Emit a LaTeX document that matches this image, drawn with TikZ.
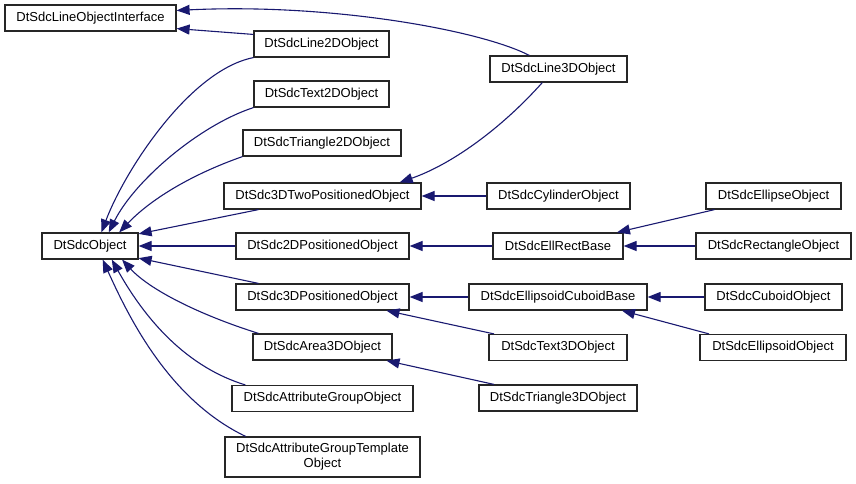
\documentclass[tikz,border=0pt]{standalone}
\usepackage{fontspec}
\setmainfont{Liberation Sans}
\usepackage{tikz}
\usetikzlibrary{arrows.meta}

\definecolor{edgeblue}{HTML}{191970}

\begin{document}
\begin{tikzpicture}[x=1pt, y=-1pt,
		cls/.style={draw=black!85, line width=1.2pt, fill=white, rectangle, minimum height=26, inner sep=0pt,
			font=\fontsize{13}{15}\selectfont},
		inh/.style={draw=edgeblue, line width=1.1pt, -{Triangle[length=13pt,width=10pt]}}]
			\useasboundingbox (0,0) rectangle (856,483);

			% first column
			\node[cls, minimum width=171] (lineif) at (90.5,18) {DtSdcLineObjectInterface};
			\node[cls, minimum width=96] (obj) at (90,246) {DtSdcObject};

			% second column
			\node[cls, minimum width=135] (line2d) at (321.5,44) {DtSdcLine2DObject};
			\node[cls, minimum width=135] (text2d) at (321.5,94) {DtSdcText2DObject};
			\node[cls, minimum width=158] (tri2d) at (322,143) {DtSdcTriangle2DObject};
			\node[cls, minimum width=197] (twopos3d) at (322.5,196) {DtSdc3DTwoPositionedObject};
			\node[cls, minimum width=173] (pos2d) at (322.5,246) {DtSdc2DPositionedObject};
			\node[cls, minimum width=173] (pos3d) at (322.5,297) {DtSdc3DPositionedObject};
			\node[cls, minimum width=139] (area3d) at (322.5,347) {DtSdcArea3DObject};
			\node[cls, minimum width=181] (attrgrp) at (322.5,398.5) {DtSdcAttributeGroupObject};
			\node[cls, minimum width=195, minimum height=40, align=center] (tmpl) at (322.5,457)
				{DtSdcAttributeGroupTemplate\\Object};

			% third column
			\node[cls, minimum width=137] (line3d) at (558.5,69) {DtSdcLine3DObject};
			\node[cls, minimum width=143] (cyl) at (558.5,196) {DtSdcCylinderObject};
			\node[cls, minimum width=130] (ellrect) at (558,246) {DtSdcEllRectBase};
			\node[cls, minimum width=178] (ellcub) at (558,297) {DtSdcEllipsoidCuboidBase};
			\node[cls, minimum width=138] (text3d) at (558,347.5) {DtSdcText3DObject};
			\node[cls, minimum width=158] (tri3d) at (558,398) {DtSdcTriangle3DObject};

			% fourth column
			\node[cls, minimum width=135] (ellipse) at (773.5,196) {DtSdcEllipseObject};
			\node[cls, minimum width=155] (rect) at (773.5,246) {DtSdcRectangleObject};
			\node[cls, minimum width=137] (cuboid) at (773.5,297) {DtSdcCuboidObject};
			\node[cls, minimum width=146] (ellipsoid) at (773,347.5) {DtSdcEllipsoidObject};

			% line interface
			\draw[inh] (line2d.172) -- (lineif.-7);
			\draw[inh] (line3d.155) .. controls (480,30) and (330,3) .. (lineif.5);

			% into DtSdcObject
			\draw[inh] (line2d.south west) .. controls (190,70) and (125,170) .. (obj.50);
			\draw[inh] (text2d.south west) .. controls (200,125) and (135,180) .. (obj.36);
			\draw[inh] (tri2d.south west) .. controls (190,175) and (150,200) .. (obj.25);
			\draw[inh] (twopos3d.192) -- (obj.14);
			\draw[inh] (pos2d) -- (obj);
			\draw[inh] (pos3d.168) -- (obj.-14);
			\draw[inh] (area3d.168) .. controls (200,315) and (150,290) .. (obj.-23);
			\draw[inh] (attrgrp.170) .. controls (180,365) and (140,310) .. (obj.-32);
			\draw[inh] (tmpl.165) .. controls (170,400) and (130,320) .. (obj.-47);

			% second level
			\draw[inh] (line3d.220) .. controls (500,130) and (450,165) .. (twopos3d.10);
			\draw[inh] (cyl) -- (twopos3d);
			\draw[inh] (ellrect) -- (pos2d);
			\draw[inh] (ellcub) -- (pos3d);
			\draw[inh] (text3d.168) -- (pos3d.-12);
			\draw[inh] (tri3d.168) -- (area3d.-12);

			% third level
			\draw[inh] (ellipse.193) -- (ellrect.13);
			\draw[inh] (rect) -- (ellrect);
			\draw[inh] (cuboid) -- (ellcub);
			\draw[inh] (ellipsoid.168) -- (ellcub.-12);
		\end{tikzpicture}
\end{document}
